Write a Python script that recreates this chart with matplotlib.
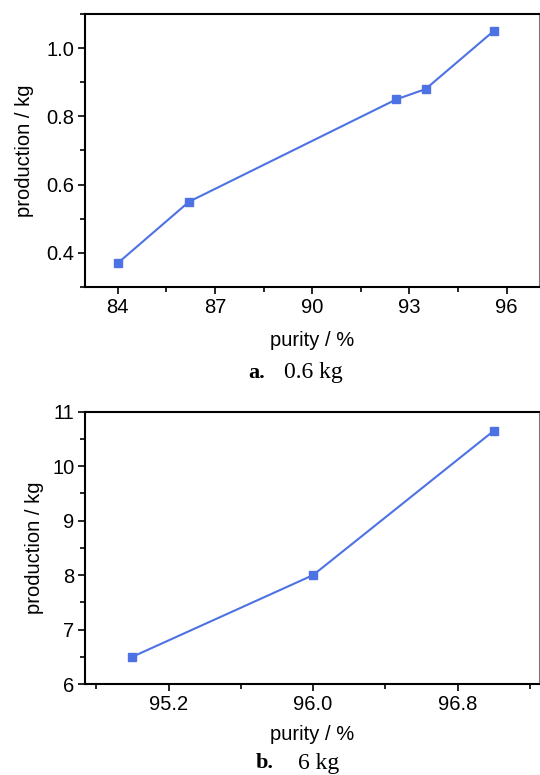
import matplotlib
matplotlib.use("Agg")
import matplotlib.pyplot as plt
from matplotlib.ticker import MultipleLocator, FormatStrFormatter
from matplotlib import font_manager

# Data
purity_a = [84.0, 86.2, 92.6, 93.5, 95.6]
production_a = [0.37, 0.55, 0.85, 0.88, 1.05]
purity_b = [95.0, 96.0, 97.0]
production_b = [6.5, 8.0, 10.65]

names = {f.name for f in font_manager.fontManager.ttflist}
sans = "Liberation Sans Narrow" if "Liberation Sans Narrow" in names else "Liberation Sans"

color = "#4d72e3"
fig = plt.figure(figsize=(5.4, 7.75), dpi=100)

def style(ax):
    for s in ax.spines.values():
        s.set_linewidth(1.5)
    ax.spines["right"].set_linewidth(0.8)
    ax.spines["right"].set_color("#777777")
    ax.tick_params(which="major", direction="out", length=5, width=1.2, labelsize=14.5, pad=3)
    ax.tick_params(which="minor", direction="out", length=3.5, width=1.2)
    ax.tick_params(top=False, right=False)
    for lab in ax.get_xticklabels() + ax.get_yticklabels():
        lab.set_fontfamily(sans)

L, R = 85.4, 539
ax1 = fig.add_axes([L/540, 1-287/775, (R-L)/540, (287-14)/775])
ax1.plot(purity_a, production_a, color=color, lw=1.5, marker="s", ms=5.8, mec=color, mfc=color)
ax1.set_xlim(83.0, 97.0)
ax1.set_ylim(0.3, 1.1)
ax1.xaxis.set_major_locator(MultipleLocator(3))
ax1.xaxis.set_minor_locator(MultipleLocator(1.5))
ax1.yaxis.set_major_locator(MultipleLocator(0.2))
ax1.yaxis.set_minor_locator(MultipleLocator(0.1))
ax1.yaxis.set_major_formatter(FormatStrFormatter("%.1f"))
ax1.set_xlabel("purity / %", fontsize=14.5, fontfamily=sans, labelpad=10)
ax1.set_ylabel("production / kg", fontsize=14.5, fontfamily=sans, labelpad=9)
style(ax1)

ax2 = fig.add_axes([L/540, 1-684/775, (R-L)/540, (684-411.7)/775])
ax2.plot(purity_b, production_b, color=color, lw=1.5, marker="s", ms=5.8, mec=color, mfc=color)
ax2.set_xlim(94.74, 97.25)
ax2.set_ylim(6, 11)
ax2.xaxis.set_major_locator(MultipleLocator(0.8))
ax2.xaxis.set_minor_locator(MultipleLocator(0.4))
ax2.yaxis.set_major_locator(MultipleLocator(1))
ax2.yaxis.set_minor_locator(MultipleLocator(0.5))
ax2.xaxis.set_major_formatter(FormatStrFormatter("%.1f"))
ax2.set_xlabel("purity / %", fontsize=14.5, fontfamily=sans, labelpad=8)
ax2.set_ylabel("production / kg", fontsize=14.5, fontfamily=sans, labelpad=6)
style(ax2)

serif = "Liberation Serif"
fig.text(265/540, 1-373/775, "a.", fontsize=16, fontweight="bold", family=serif, ha="right", va="center")
fig.text(284/540, 1-373/775, "0.6 kg", fontsize=17, family=serif, ha="left", va="center")
fig.text(274/540, 1-763/775, "b.", fontsize=16, fontweight="bold", family=serif, ha="right", va="center")
fig.text(298/540, 1-763/775, "6 kg", fontsize=17, family=serif, ha="left", va="center")

fig.savefig("out.png", dpi=100)
